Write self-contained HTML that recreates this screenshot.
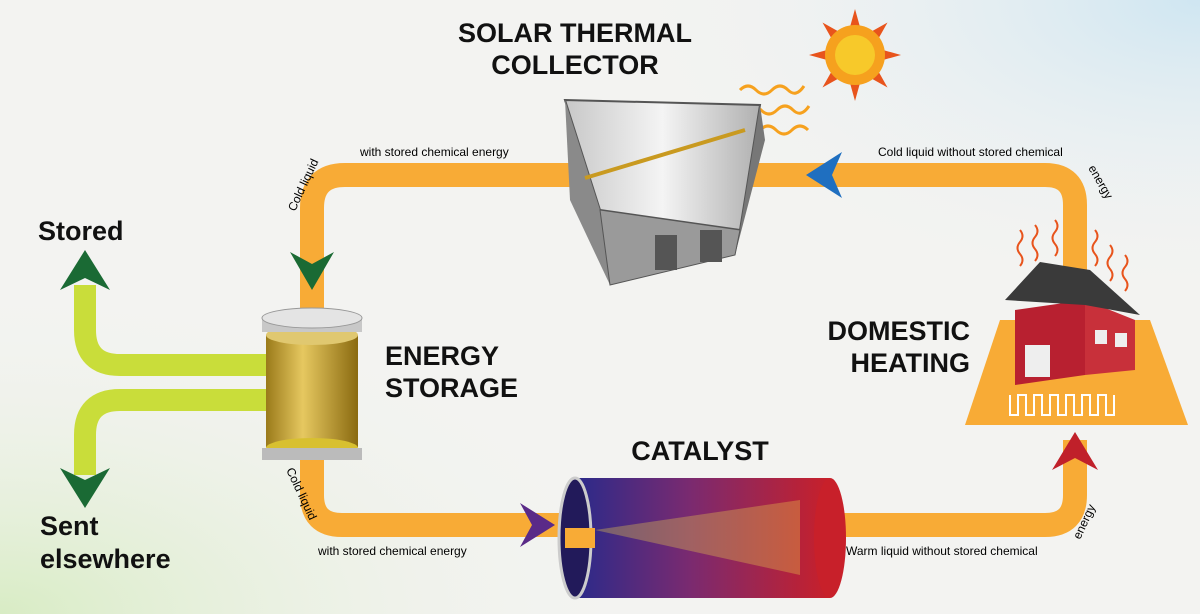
<!DOCTYPE html>
<html><head><meta charset="utf-8"><style>
html,body{margin:0;padding:0;width:1200px;height:614px;overflow:hidden}
svg{display:block}
text{font-family:"Liberation Sans",sans-serif}
</style></head><body>
<svg width="1200" height="614" viewBox="0 0 1200 614" xmlns="http://www.w3.org/2000/svg">
<defs>
<radialGradient id="bgG" cx="0" cy="1" r="0.55"><stop offset="0" stop-color="#d8ecc4"/><stop offset="1" stop-color="#f4f4f2" stop-opacity="0"/></radialGradient>
<radialGradient id="bgB" cx="1" cy="0" r="0.5"><stop offset="0" stop-color="#cfe6f2"/><stop offset="1" stop-color="#f4f4f2" stop-opacity="0"/></radialGradient>
<linearGradient id="cat" x1="0" x2="1"><stop offset="0" stop-color="#2a2a8a"/><stop offset="0.45" stop-color="#7a2a70"/><stop offset="1" stop-color="#c8202a"/></linearGradient>
<linearGradient id="gold" x1="0" x2="1"><stop offset="0" stop-color="#9a7a1a"/><stop offset="0.4" stop-color="#e6c860"/><stop offset="1" stop-color="#8a6a10"/></linearGradient>
<linearGradient id="metal" x1="0" x2="1"><stop offset="0" stop-color="#c8c8c8"/><stop offset="0.5" stop-color="#f4f4f4"/><stop offset="1" stop-color="#b0b0b0"/></linearGradient>
</defs>
<rect width="1200" height="614" fill="#f3f3f1"/>
<rect width="1200" height="614" fill="url(#bgG)"/>
<rect width="1200" height="614" fill="url(#bgB)"/>

<path d="M275 365 H120 Q85 365 85 330 V285" fill="none" stroke="#c9dd3a" stroke-width="22"/>
<path d="M275 400 H120 Q85 400 85 435 V475" fill="none" stroke="#c9dd3a" stroke-width="22"/>
<polygon points="85,250 60,290 85,278 110,290" fill="#1a6a34"/>
<polygon points="85,508 60,468 85,480 110,468" fill="#1a6a34"/>

<path d="M1075 270 V205 Q1075 175 1045 175 H345 Q312 175 312 208 V320" fill="none" stroke="#f8ab36" stroke-width="24"/>
<path d="M312 455 V495 Q312 525 342 525 H570" fill="none" stroke="#f8ab36" stroke-width="24"/>
<path d="M840 525 H1045 Q1075 525 1075 495 V440" fill="none" stroke="#f8ab36" stroke-width="24"/>

<polygon points="312,290 290,252 312,264 334,252" fill="#1a6a34"/>
<polygon points="806,175 842,152 832,175 842,198" fill="#1f6fc0"/>
<polygon points="555,525 520,503 532,525 520,547" fill="#5a2a88"/>
<polygon points="1075,432 1052,470 1075,458 1098,470" fill="#c0202a"/>

<text x="360" y="156" font-size="12">with stored chemical energy</text>
<text x="878" y="156" font-size="12">Cold liquid without stored chemical</text>
<text transform="translate(1088,168) rotate(60)" font-size="12">energy</text>
<text transform="translate(295,212) rotate(-65)" font-size="12">Cold liquid</text>
<text transform="translate(286,470) rotate(65)" font-size="12">Cold liquid</text>
<text x="318" y="555" font-size="12">with stored chemical energy</text>
<text x="846" y="555" font-size="12">Warm liquid without stored chemical</text>
<text transform="translate(1080,540) rotate(-65)" font-size="12">energy</text>

<g font-weight="bold" font-size="27" fill="#111">
<text x="575" y="42" text-anchor="middle">SOLAR THERMAL</text>
<text x="575" y="74" text-anchor="middle">COLLECTOR</text>
<text x="385" y="365">ENERGY</text>
<text x="385" y="397">STORAGE</text>
<text x="970" y="340" text-anchor="end">DOMESTIC</text>
<text x="970" y="372" text-anchor="end">HEATING</text>
<text x="700" y="460" text-anchor="middle">CATALYST</text>
<text x="38" y="240">Stored</text>
<text x="40" y="535">Sent</text>
<text x="40" y="568">elsewhere</text>
</g>

<g transform="translate(855,55)">
<g fill="#e8541c">
<polygon points="-5,-28 0,-46 5,-28"/><polygon points="-5,28 0,46 5,28"/><polygon points="-28,-5 -46,0 -28,5"/><polygon points="28,-5 46,0 28,5"/>
<g transform="rotate(45)"><polygon points="-5,-28 0,-46 5,-28"/><polygon points="-5,28 0,46 5,28"/><polygon points="-28,-5 -46,0 -28,5"/><polygon points="28,-5 46,0 28,5"/></g>
</g>
<circle r="30" fill="#f6a11e"/>
<circle r="20" fill="#f7c92a"/>
</g>
<g fill="none" stroke="#f6a11e" stroke-width="3">
<path d="M740 90 q8-8 16 0 t16 0 t16 0 t16-4"/>
<path d="M745 110 q8-8 16 0 t16 0 t16 0 t16-4"/>
<path d="M760 130 q8-8 16 0 t16 0 t16 0"/>
</g>

<g>
<polygon points="565,100 760,105 740,230 600,210" fill="url(#metal)" stroke="#555" stroke-width="2"/>
<polygon points="565,100 600,210 610,285 570,200" fill="#8a8a8a"/>
<polygon points="760,105 740,230 735,255 765,140" fill="#777"/>
<polygon points="600,210 740,230 735,255 610,285" fill="#9a9a9a" stroke="#555"/>
<rect x="655" y="235" width="22" height="35" fill="#555"/>
<rect x="700" y="230" width="22" height="32" fill="#555"/>
<line x1="585" y1="178" x2="745" y2="130" stroke="#c99a20" stroke-width="4"/>
</g>

<rect x="266" y="335" width="92" height="112" fill="url(#gold)"/>
<ellipse cx="312" cy="448" rx="46" ry="10" fill="#d8c030"/>
<ellipse cx="312" cy="335" rx="46" ry="10" fill="#e0c870"/>
<rect x="262" y="318" width="100" height="14" fill="#c8c8c8"/>
<ellipse cx="312" cy="318" rx="50" ry="10" fill="#e4e4e4" stroke="#999"/>
<rect x="262" y="448" width="100" height="12" fill="#bbb"/>

<rect x="575" y="478" width="255" height="120" fill="url(#cat)"/>
<ellipse cx="830" cy="538" rx="16" ry="60" fill="#c8202a"/>
<ellipse cx="575" cy="538" rx="16" ry="60" fill="#221a5a" stroke="#ccc" stroke-width="3"/>
<rect x="565" y="528" width="30" height="20" fill="#f8ab36"/>
<path d="M595 530 L800 500 L800 575 Z" fill="#e8c84a" opacity="0.35"/>

<polygon points="1000,320 1150,320 1188,425 965,425" fill="#f8ab36"/>
<path d="M1010 395 v20 h8 v-20 h8 v20 h8 v-20 h8 v20 h8 v-20 h8 v20 h8 v-20 h8 v20 h8 v-20 h8 v20 h8 v-20 h8 v20 h8 v-20" fill="none" stroke="#fff" stroke-width="2"/>
<polygon points="1015,310 1085,300 1085,375 1015,385" fill="#b82030"/>
<polygon points="1085,300 1135,320 1135,370 1085,375" fill="#c8303a"/>
<polygon points="1005,300 1040,262 1090,270 1140,315 1085,305" fill="#3a3a3a"/>
<rect x="1025" y="345" width="25" height="32" fill="#eee"/>
<rect x="1095" y="330" width="12" height="14" fill="#eee"/>
<rect x="1115" y="333" width="12" height="14" fill="#eee"/>
<g fill="none" stroke="#e8541c" stroke-width="2">
<path d="M1020 230 q5 6 0 12 t0 12 t0 12"/><path d="M1035 225 q5 6 0 12 t0 12 t0 12"/>
<path d="M1055 220 q5 6 0 12 t0 12 t0 12"/><path d="M1095 230 q5 6 0 12 t0 12 t0 12"/>
<path d="M1110 245 q5 6 0 12 t0 12 t0 12"/><path d="M1125 255 q5 6 0 12 t0 12 t0 12"/>
</g>
</svg>
</body></html>
